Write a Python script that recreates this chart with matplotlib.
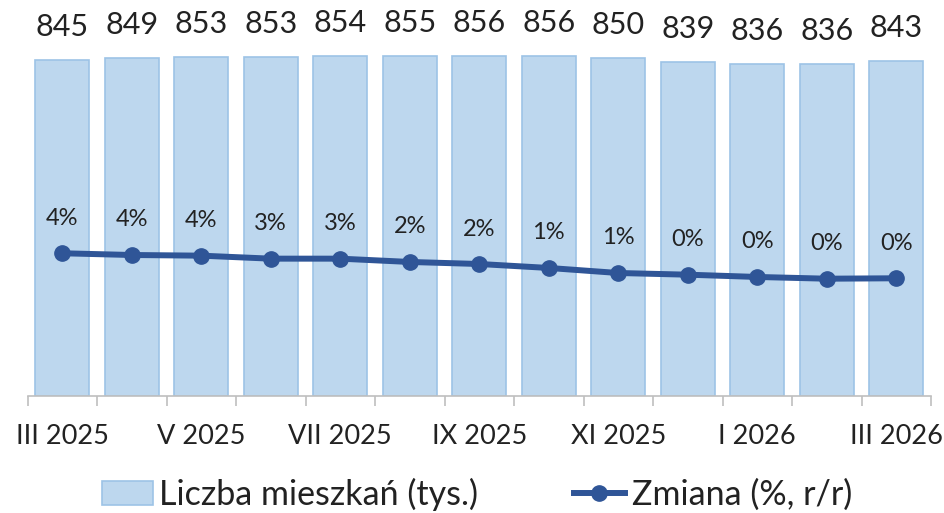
import matplotlib
matplotlib.use("Agg")
import matplotlib.pyplot as plt
from matplotlib.patches import Patch
from matplotlib.lines import Line2D

plt.rcParams['font.family'] = ['Lato', 'DejaVu Sans']

# data
months = ["III 2025", "IV 2025", "V 2025", "VI 2025", "VII 2025", "VIII 2025", "IX 2025",
          "X 2025", "XI 2025", "XII 2025", "I 2026", "II 2026", "III 2026"]
dwellings = [845, 849, 853, 853, 854, 855, 856, 856, 850, 839, 836, 836, 843]
change_pct = [3.92, 3.63, 3.52, 3.02, 3.02, 2.47, 2.13, 1.47, 0.63, 0.35, -0.03, -0.32, -0.25]

bar_face = "#BDD7EE"
bar_edge = "#9DC3E6"
line_col = "#2F5597"
axis_grey = "#BFBFBF"
text_col = "#222222"

fig = plt.figure(figsize=(9.44, 5.13), dpi=100)
ax = fig.add_axes([27.5 / 944, 117 / 513, 903.5 / 944, 396 / 513])
x = list(range(len(months)))

ax.bar(x, dwellings, width=0.78, color=bar_face, edgecolor=bar_edge, linewidth=1.2, zorder=2)
for xi, v in zip(x, dwellings):
    ax.annotate(f"{v}", (xi, v), xytext=(0, 33), textcoords="offset pixels",
                ha="center", va="center", fontsize=22, color=text_col)

ax.set_xlim(-0.5, len(months) - 0.5)
ax.set_ylim(0, 996)
ax.set_yticks([])
for s in ["left", "right", "top"]:
    ax.spines[s].set_visible(False)
ax.spines["bottom"].set_color(axis_grey)
ax.spines["bottom"].set_linewidth(1.2)

# labels on every other month, tick marks between categories
ax.set_xticks(x[::2])
ax.set_xticklabels(months[::2], fontsize=19.5, color=text_col)
ax.tick_params(axis="x", which="major", length=0, pad=20)
ax.set_xticks([i - 0.5 for i in range(len(months) + 1)], minor=True)
ax.tick_params(axis="x", which="minor", length=7, color=axis_grey, width=1.2)

ax2 = ax.twinx()
ax2.plot(x, change_pct, color=line_col, linewidth=4.3, marker="o", markersize=11, zorder=3)
for xi, v in zip(x, change_pct):
    ax2.annotate(f"{round(v)}%", (xi, v), xytext=(0, 35), textcoords="offset pixels",
                 ha="center", va="center", fontsize=17, color=text_col)
ax2.set_ylim(-19.87, 46.13)
ax2.set_yticks([])
for s in ax2.spines.values():
    s.set_visible(False)

handles = [Patch(facecolor=bar_face, edgecolor=bar_edge, linewidth=1.2),
           Line2D([], [], color=line_col, linewidth=4.3, marker="o", markersize=11)]
fig.legend(handles, ["Liczba mieszkań (tys.)", "Zmiana (%, r/r)"], loc="center",
           bbox_to_anchor=(0.505, 19 / 513), ncol=2, frameon=False, fontsize=24.5,
           handlelength=1.5, handletextpad=0.2, columnspacing=2.8, labelcolor=text_col)

fig.savefig("out.png", dpi=100)
